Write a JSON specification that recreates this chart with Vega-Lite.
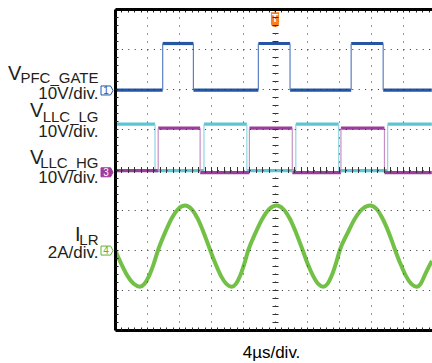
{
  "$schema": "https://vega.github.io/schema/vega-lite/v6.json",
  "width": 317,
  "height": 321,
  "autosize": {"type": "none"},
  "padding": {"left": 115, "top": 9, "right": 0, "bottom": 33},
  "background": "white",
  "config": {
    "view": {"stroke": null},
    "font": "Liberation Sans",
    "text": {"font": "Liberation Sans", "color": "#231f20"}
  },
  "datasets": {
    "seg": [
      {"ch": "pfc", "t0": 0, "t1": 1.49, "v": 5.98}, {"ch": "pfc", "t0": 1.49, "t1": 2.45, "v": 7.14},
      {"ch": "pfc", "t0": 2.45, "t1": 4.48, "v": 5.98}, {"ch": "pfc", "t0": 4.48, "t1": 5.47, "v": 7.14},
      {"ch": "pfc", "t0": 5.47, "t1": 7.38, "v": 5.98}, {"ch": "pfc", "t0": 7.38, "t1": 8.38, "v": 7.14},
      {"ch": "pfc", "t0": 8.38, "t1": 9.9, "v": 5.98},
      {"ch": "lg", "t0": 0, "t1": 1.25, "v": 5.13}, {"ch": "lg", "t0": 1.25, "t1": 2.78, "v": 3.97},
      {"ch": "lg", "t0": 2.78, "t1": 4.12, "v": 5.13}, {"ch": "lg", "t0": 4.12, "t1": 5.65, "v": 3.97},
      {"ch": "lg", "t0": 5.65, "t1": 6.99, "v": 5.13}, {"ch": "lg", "t0": 6.99, "t1": 8.52, "v": 3.97},
      {"ch": "lg", "t0": 8.52, "t1": 9.9, "v": 5.13},
      {"ch": "hg", "t0": 0, "t1": 1.35, "v": 3.97}, {"ch": "hg", "t0": 1.35, "t1": 2.66, "v": 5.03},
      {"ch": "hg", "t0": 2.66, "t1": 4.2, "v": 3.92}, {"ch": "hg", "t0": 4.2, "t1": 5.54, "v": 5.03},
      {"ch": "hg", "t0": 5.54, "t1": 7.06, "v": 3.92}, {"ch": "hg", "t0": 7.06, "t1": 8.42, "v": 5.03},
      {"ch": "hg", "t0": 8.42, "t1": 9.9, "v": 3.92}
    ],
    "edge": [
      {"ch": "pfc", "t": 1.49, "lo": 5.98, "hi": 7.14}, {"ch": "pfc", "t": 2.45, "lo": 5.98, "hi": 7.14},
      {"ch": "pfc", "t": 4.48, "lo": 5.98, "hi": 7.14}, {"ch": "pfc", "t": 5.47, "lo": 5.98, "hi": 7.14},
      {"ch": "pfc", "t": 7.38, "lo": 5.98, "hi": 7.14}, {"ch": "pfc", "t": 8.38, "lo": 5.98, "hi": 7.14},
      {"ch": "lg", "t": 1.25, "lo": 3.97, "hi": 5.13}, {"ch": "lg", "t": 2.78, "lo": 3.97, "hi": 5.13},
      {"ch": "lg", "t": 4.12, "lo": 3.97, "hi": 5.13}, {"ch": "lg", "t": 5.65, "lo": 3.97, "hi": 5.13},
      {"ch": "lg", "t": 6.99, "lo": 3.97, "hi": 5.13}, {"ch": "lg", "t": 8.52, "lo": 3.97, "hi": 5.13},
      {"ch": "hg", "t": 1.35, "lo": 3.97, "hi": 5.03}, {"ch": "hg", "t": 2.66, "lo": 3.92, "hi": 5.03},
      {"ch": "hg", "t": 4.2, "lo": 3.92, "hi": 5.03}, {"ch": "hg", "t": 5.54, "lo": 3.92, "hi": 5.03},
      {"ch": "hg", "t": 7.06, "lo": 3.92, "hi": 5.03}, {"ch": "hg", "t": 8.42, "lo": 3.92, "hi": 5.03}
    ],
    "ilr": [
      {"t": 0, "v": 2.0}, {"t": 0.195, "v": 1.65}, {"t": 0.39, "v": 1.35}, {"t": 0.585, "v": 1.15},
      {"t": 0.78, "v": 1.08}, {"t": 0.92, "v": 1.15}, {"t": 1.065, "v": 1.35}, {"t": 1.21, "v": 1.65},
      {"t": 1.35, "v": 2.0}, {"t": 1.56, "v": 2.42}, {"t": 1.77, "v": 2.78}, {"t": 1.98, "v": 3.02},
      {"t": 2.19, "v": 3.1}, {"t": 2.385, "v": 3.02}, {"t": 2.58, "v": 2.78}, {"t": 2.775, "v": 2.42},
      {"t": 2.97, "v": 2.0}, {"t": 3.14, "v": 1.65}, {"t": 3.31, "v": 1.35}, {"t": 3.48, "v": 1.15},
      {"t": 3.65, "v": 1.08}, {"t": 3.78, "v": 1.15}, {"t": 3.91, "v": 1.35}, {"t": 4.04, "v": 1.65},
      {"t": 4.17, "v": 2.0}, {"t": 4.39, "v": 2.42}, {"t": 4.61, "v": 2.78}, {"t": 4.83, "v": 3.02},
      {"t": 5.05, "v": 3.1}, {"t": 5.25, "v": 3.02}, {"t": 5.46, "v": 2.78}, {"t": 5.66, "v": 2.42},
      {"t": 5.86, "v": 2.0}, {"t": 6.02, "v": 1.65}, {"t": 6.19, "v": 1.35}, {"t": 6.35, "v": 1.15},
      {"t": 6.51, "v": 1.08}, {"t": 6.64, "v": 1.15}, {"t": 6.77, "v": 1.35}, {"t": 6.9, "v": 1.65},
      {"t": 7.03, "v": 2.0}, {"t": 7.27, "v": 2.42}, {"t": 7.5, "v": 2.78}, {"t": 7.74, "v": 3.02},
      {"t": 7.97, "v": 3.1}, {"t": 8.17, "v": 3.02}, {"t": 8.36, "v": 2.78}, {"t": 8.56, "v": 2.42},
      {"t": 8.75, "v": 2.0}, {"t": 8.92, "v": 1.65}, {"t": 9.09, "v": 1.35}, {"t": 9.26, "v": 1.15},
      {"t": 9.43, "v": 1.08}, {"t": 9.55, "v": 1.15}, {"t": 9.67, "v": 1.35}, {"t": 9.79, "v": 1.55},
      {"t": 9.9, "v": 1.72}
    ],
    "markers": [
      {"ch": "1", "level": 5.97},
      {"ch": "3", "level": 3.93},
      {"ch": "4", "level": 1.98}
    ],
    "labels": [
      {"ch": "1", "level": 6.0, "sym": "V", "sub": "PFC_GATE", "scale": "10V/div."},
      {"ch": "2", "level": 3.95, "sym": "V", "sub": "LLC_LG", "scale": "10V/div."},
      {"ch": "3", "level": 3.95, "sym": "V", "sub": "LLC_HG", "scale": "10V/div."},
      {"ch": "4", "level": 2.0, "sym": "I", "sub": "LR", "scale": "2A/div."}
    ],
    "trigger": [{"t": 5, "top": 8}]
  },
  "resolve": {
    "scale": {"x": "shared", "y": "shared"},
    "axis": {"x": "independent", "y": "independent"}
  },
  "layer": [
    {
      "data": {"name": "seg"},
      "transform": [{"filter": "datum.ch == 'pfc'"}],
      "mark": {"type": "rule", "color": "#2456a4", "strokeWidth": 3.2, "clip": true},
      "encoding": {
        "x": {"field": "t0", "type": "quantitative", "scale": {"domain": [0, 9.906], "nice": false, "zero": false},
          "axis": {"orient": "bottom", "values": [0, 1, 2, 3, 4, 5, 6, 7, 8, 9], "grid": true, "gridColor": "#333333", "gridDash": [1, 7], "gridWidth": 1,
            "domain": true, "domainColor": "#000000", "domainWidth": 3, "ticks": false, "labels": false, "zindex": 1,
            "title": "4µs/div.", "titleFont": "Liberation Sans", "titleFontSize": 17, "titleFontWeight": "normal", "titleColor": "#000000",
            "titleX": 156, "titleY": 27, "titleBaseline": "alphabetic", "titleAlign": "center", "titleAnchor": null}},
        "x2": {"field": "t1"},
        "y": {"field": "v", "type": "quantitative", "scale": {"domain": [0, 8], "nice": false, "zero": false},
          "axis": {"orient": "left", "values": [1, 2, 3, 4, 5, 6, 7], "grid": true, "gridColor": "#333333", "gridDash": [1, 5.4], "gridWidth": 1,
            "domain": true, "domainColor": "#000000", "domainWidth": 3, "ticks": false, "labels": false, "title": null, "zindex": 1}}
      }
    },
    {
      "data": {"name": "edge"},
      "transform": [{"filter": "datum.ch == 'pfc'"}],
      "mark": {"type": "rule", "color": "#5b7fc0", "strokeWidth": 1.2, "clip": true},
      "encoding": {
        "x": {"field": "t", "type": "quantitative", "scale": {"domain": [0, 9.906], "nice": false, "zero": false}, "axis": null},
        "y": {"field": "lo", "type": "quantitative", "scale": {"domain": [0, 8], "nice": false, "zero": false}, "axis": null},
        "y2": {"field": "hi"}
      }
    },
    {
      "data": {"name": "seg"},
      "transform": [{"filter": "datum.ch == 'lg'"}],
      "mark": {"type": "rule", "color": "#5cc6d4", "strokeWidth": 3.2, "clip": true},
      "encoding": {
        "x": {"field": "t0", "type": "quantitative", "scale": {"domain": [0, 9.906], "nice": false, "zero": false},
          "axis": {"orient": "top", "values": [0,0.2,0.4,0.6,0.8,1,1.2,1.4,1.6,1.8,2,2.2,2.4,2.6,2.8,3,3.2,3.4,3.6,3.8,4,4.2,4.4,4.6,4.8,5,5.2,5.4,5.6,5.8,6,6.2,6.4,6.6,6.8,7,7.2,7.4,7.6,7.8,8,8.2,8.4,8.6,8.8,9,9.2,9.4,9.6,9.8],
            "grid": false, "domain": true, "domainColor": "#000000", "domainWidth": 3, "ticks": true, "tickSize": -3, "tickColor": "#222222", "tickWidth": 1,
            "labels": false, "title": null, "zindex": 1}},
        "x2": {"field": "t1"},
        "y": {"field": "v", "type": "quantitative", "scale": {"domain": [0, 8], "nice": false, "zero": false},
          "axis": {"orient": "left", "values": [0.2,0.4,0.6,0.8,1,1.2,1.4,1.6,1.8,2,2.2,2.4,2.6,2.8,3,3.2,3.4,3.6,3.8,4,4.2,4.4,4.6,4.8,5,5.2,5.4,5.6,5.8,6,6.2,6.4,6.6,6.8,7,7.2,7.4,7.6,7.8],
            "grid": false, "domain": false, "ticks": true, "tickSize": -3, "tickColor": "#222222", "tickWidth": 1, "labels": false, "title": null, "zindex": 1}}
      }
    },
    {
      "data": {"name": "edge"},
      "transform": [{"filter": "datum.ch == 'lg'"}],
      "mark": {"type": "rule", "color": "#8fd6e0", "strokeWidth": 1.2, "clip": true},
      "encoding": {
        "x": {"field": "t", "type": "quantitative", "scale": {"domain": [0, 9.906], "nice": false, "zero": false}, "axis": null},
        "y": {"field": "lo", "type": "quantitative", "scale": {"domain": [0, 8], "nice": false, "zero": false}, "axis": null},
        "y2": {"field": "hi"}
      }
    },
    {
      "data": {"name": "seg"},
      "transform": [{"filter": "datum.ch == 'hg'"}],
      "mark": {"type": "rule", "color": "#9c3c9c", "strokeWidth": 3.2, "clip": true},
      "encoding": {
        "x": {"field": "t0", "type": "quantitative", "scale": {"domain": [0, 9.906], "nice": false, "zero": false},
          "axis": {"orient": "bottom", "values": [0.2,0.4,0.6,0.8,1,1.2,1.4,1.6,1.8,2,2.2,2.4,2.6,2.8,3,3.2,3.4,3.6,3.8,4,4.2,4.4,4.6,4.8,5,5.2,5.4,5.6,5.8,6,6.2,6.4,6.6,6.8,7,7.2,7.4,7.6,7.8,8,8.2,8.4,8.6,8.8,9,9.2,9.4,9.6,9.8],
            "grid": false, "domain": false, "ticks": true, "tickSize": -3, "tickColor": "#222222", "tickWidth": 1, "labels": false, "title": null, "zindex": 1}},
        "x2": {"field": "t1"},
        "y": {"field": "v", "type": "quantitative", "scale": {"domain": [0, 8], "nice": false, "zero": false},
          "axis": {"orient": "left", "offset": -163, "values": [0.2,0.4,0.6,0.8,1,1.2,1.4,1.6,1.8,2,2.2,2.4,2.6,2.8,3,3.2,3.4,3.6,3.8,4.2,4.4,4.6,4.8,5,5.2,5.4,5.6,5.8,6,6.2,6.4,6.6,6.8,7,7.2,7.4,7.6,7.8],
            "grid": false, "domain": false, "ticks": true, "tickSize": 6, "tickColor": "#333333", "tickWidth": 1, "labels": false, "title": null, "zindex": 1}}
      }
    },
    {
      "data": {"name": "edge"},
      "transform": [{"filter": "datum.ch == 'hg'"}],
      "mark": {"type": "rule", "color": "#c68fc6", "strokeWidth": 1.2, "clip": true},
      "encoding": {
        "x": {"field": "t", "type": "quantitative", "scale": {"domain": [0, 9.906], "nice": false, "zero": false}, "axis": null},
        "y": {"field": "lo", "type": "quantitative", "scale": {"domain": [0, 8], "nice": false, "zero": false}, "axis": null},
        "y2": {"field": "hi"}
      }
    },
    {
      "data": {"name": "ilr"},
      "mark": {"type": "line", "color": "#72c046", "strokeWidth": 4, "interpolate": "monotone", "clip": true},
      "encoding": {
        "x": {"field": "t", "type": "quantitative", "scale": {"domain": [0, 9.906], "nice": false, "zero": false},
          "axis": {"orient": "bottom", "offset": -163.5, "values": [0.2,0.4,0.6,0.8,1,1.2,1.4,1.6,1.8,2,2.2,2.4,2.6,2.8,3,3.2,3.4,3.6,3.8,4,4.2,4.4,4.6,4.8,5.2,5.4,5.6,5.8,6,6.2,6.4,6.6,6.8,7,7.2,7.4,7.6,7.8,8,8.2,8.4,8.6,8.8,9,9.2,9.4,9.6,9.8],
            "grid": false, "domain": false, "ticks": true, "tickSize": 6, "tickColor": "#333333", "tickWidth": 1, "labels": false, "title": null, "zindex": 1}},
        "y": {"field": "v", "type": "quantitative", "scale": {"domain": [0, 8], "nice": false, "zero": false}, "axis": null}
      }
    },
    {
      "data": {"name": "markers"},
      "transform": [{"filter": "datum.ch == '1'"}],
      "mark": {"type": "point", "shape": "M-1,-0.75L0.6,-0.75L1,0L0.6,0.75L-1,0.75Z", "size": 144, "filled": true, "fill": "white", "stroke": "#2456a4", "strokeWidth": 1, "opacity": 1, "xOffset": -8, "clip": false},
      "encoding": {
        "x": {"datum": 0, "type": "quantitative", "scale": {"domain": [0, 9.906], "nice": false, "zero": false}, "axis": null},
        "y": {"field": "level", "type": "quantitative", "scale": {"domain": [0, 8], "nice": false, "zero": false}, "axis": null}
      }
    },
    {
      "data": {"name": "markers"},
      "transform": [{"filter": "datum.ch == '3'"}],
      "mark": {"type": "point", "shape": "M-1,-0.75L0.6,-0.75L1,0L0.6,0.75L-1,0.75Z", "size": 144, "filled": true, "fill": "#9c3c9c", "stroke": "#9c3c9c", "strokeWidth": 1, "opacity": 1, "xOffset": -8, "clip": false},
      "encoding": {
        "x": {"datum": 0, "type": "quantitative", "scale": {"domain": [0, 9.906], "nice": false, "zero": false}, "axis": null},
        "y": {"field": "level", "type": "quantitative", "scale": {"domain": [0, 8], "nice": false, "zero": false}, "axis": null}
      }
    },
    {
      "data": {"name": "markers"},
      "transform": [{"filter": "datum.ch == '4'"}],
      "mark": {"type": "point", "shape": "M-1,-0.75L0.6,-0.75L1,0L0.6,0.75L-1,0.75Z", "size": 144, "filled": true, "fill": "white", "stroke": "#5fb33a", "strokeWidth": 1, "opacity": 1, "xOffset": -8, "clip": false},
      "encoding": {
        "x": {"datum": 0, "type": "quantitative", "scale": {"domain": [0, 9.906], "nice": false, "zero": false}, "axis": null},
        "y": {"field": "level", "type": "quantitative", "scale": {"domain": [0, 8], "nice": false, "zero": false}, "axis": null}
      }
    },
    {
      "data": {"name": "markers"},
      "mark": {"type": "text", "fontSize": 10, "font": "Liberation Sans", "align": "center", "baseline": "middle", "dx": -9, "dy": 0.5, "clip": false},
      "encoding": {
        "x": {"datum": 0, "type": "quantitative", "scale": {"domain": [0, 9.906], "nice": false, "zero": false}, "axis": null},
        "y": {"field": "level", "type": "quantitative", "scale": {"domain": [0, 8], "nice": false, "zero": false}, "axis": null},
        "text": {"field": "ch"},
        "color": {"field": "ch", "type": "nominal", "scale": {"domain": ["1", "3", "4"], "range": ["#2456a4", "#ffffff", "#5fb33a"]}, "legend": null}
      }
    },
    {
      "data": {"name": "trigger"},
      "mark": {"type": "point", "shape": "M-0.35,-1L0.35,-1L0,-0.64Z M-0.45,-0.64L0.45,-0.64L0.45,0.62Q0.45,1 0,1Q-0.45,1 -0.45,0.62Z", "size": 324, "filled": true, "fill": "#f47f24", "stroke": null, "opacity": 1, "yOffset": 9, "clip": false},
      "encoding": {
        "x": {"field": "t", "type": "quantitative", "scale": {"domain": [0, 9.906], "nice": false, "zero": false}, "axis": null},
        "y": {"field": "top", "type": "quantitative", "scale": {"domain": [0, 8], "nice": false, "zero": false}, "axis": null}
      }
    },
    {
      "data": {"name": "trigger"},
      "mark": {"type": "text", "text": "T", "fontSize": 10, "fontWeight": "bold", "color": "#ffffff", "align": "center", "baseline": "middle", "dy": 10, "clip": false},
      "encoding": {
        "x": {"field": "t", "type": "quantitative", "scale": {"domain": [0, 9.906], "nice": false, "zero": false}, "axis": null},
        "y": {"field": "top", "type": "quantitative", "scale": {"domain": [0, 8], "nice": false, "zero": false}, "axis": null}
      }
    },
    {
      "data": {"name": "labels"},
      "transform": [{"filter": "datum.ch == '1'"}],
      "layer": [
        {"mark": {"type": "text", "fontSize": 20, "align": "left", "baseline": "alphabetic", "dx": -107, "dy": -9.75, "clip": false}, "encoding": {"text": {"field": "sym"}}},
        {"mark": {"type": "text", "fontSize": 15, "align": "right", "baseline": "alphabetic", "dx": -16.5, "dy": -6.75, "clip": false}, "encoding": {"text": {"field": "sub"}}},
        {"mark": {"type": "text", "fontSize": 17, "align": "right", "baseline": "alphabetic", "dx": -16.5, "dy": 9.5, "clip": false}, "encoding": {"text": {"field": "scale"}}}
      ],
      "encoding": {
        "x": {"datum": 0, "type": "quantitative", "scale": {"domain": [0, 9.906], "nice": false, "zero": false}, "axis": null},
        "y": {"field": "level", "type": "quantitative", "scale": {"domain": [0, 8], "nice": false, "zero": false}, "axis": null}
      }
    },
    {
      "data": {"name": "labels"},
      "transform": [{"filter": "datum.ch == '2'"}],
      "layer": [
        {"mark": {"type": "text", "fontSize": 20, "align": "left", "baseline": "alphabetic", "dx": -85, "dy": -54.5, "clip": false}, "encoding": {"text": {"field": "sym"}}},
        {"mark": {"type": "text", "fontSize": 15, "align": "right", "baseline": "alphabetic", "dx": -16.5, "dy": -50, "clip": false}, "encoding": {"text": {"field": "sub"}}},
        {"mark": {"type": "text", "fontSize": 17, "align": "right", "baseline": "alphabetic", "dx": -16.5, "dy": -35, "clip": false}, "encoding": {"text": {"field": "scale"}}}
      ],
      "encoding": {
        "x": {"datum": 0, "type": "quantitative", "scale": {"domain": [0, 9.906], "nice": false, "zero": false}, "axis": null},
        "y": {"field": "level", "type": "quantitative", "scale": {"domain": [0, 8], "nice": false, "zero": false}, "axis": null}
      }
    },
    {
      "data": {"name": "labels"},
      "transform": [{"filter": "datum.ch == '3'"}],
      "layer": [
        {"mark": {"type": "text", "fontSize": 20, "align": "left", "baseline": "alphabetic", "dx": -85, "dy": -7.7, "clip": false}, "encoding": {"text": {"field": "sym"}}},
        {"mark": {"type": "text", "fontSize": 15, "align": "right", "baseline": "alphabetic", "dx": -16.5, "dy": -3.2, "clip": false}, "encoding": {"text": {"field": "sub"}}},
        {"mark": {"type": "text", "fontSize": 17, "align": "right", "baseline": "alphabetic", "dx": -16.5, "dy": 11, "clip": false}, "encoding": {"text": {"field": "scale"}}}
      ],
      "encoding": {
        "x": {"datum": 0, "type": "quantitative", "scale": {"domain": [0, 9.906], "nice": false, "zero": false}, "axis": null},
        "y": {"field": "level", "type": "quantitative", "scale": {"domain": [0, 8], "nice": false, "zero": false}, "axis": null}
      }
    },
    {
      "data": {"name": "labels"},
      "transform": [{"filter": "datum.ch == '4'"}],
      "layer": [
        {"mark": {"type": "text", "fontSize": 20, "align": "left", "baseline": "alphabetic", "dx": -40, "dy": -8.75, "clip": false}, "encoding": {"text": {"field": "sym"}}},
        {"mark": {"type": "text", "fontSize": 15, "align": "right", "baseline": "alphabetic", "dx": -16.5, "dy": -4.5, "clip": false}, "encoding": {"text": {"field": "sub"}}},
        {"mark": {"type": "text", "fontSize": 17, "align": "right", "baseline": "alphabetic", "dx": -16.5, "dy": 8, "clip": false}, "encoding": {"text": {"field": "scale"}}}
      ],
      "encoding": {
        "x": {"datum": 0, "type": "quantitative", "scale": {"domain": [0, 9.906], "nice": false, "zero": false}, "axis": null},
        "y": {"field": "level", "type": "quantitative", "scale": {"domain": [0, 8], "nice": false, "zero": false}, "axis": null}
      }
    }
  ]
}
